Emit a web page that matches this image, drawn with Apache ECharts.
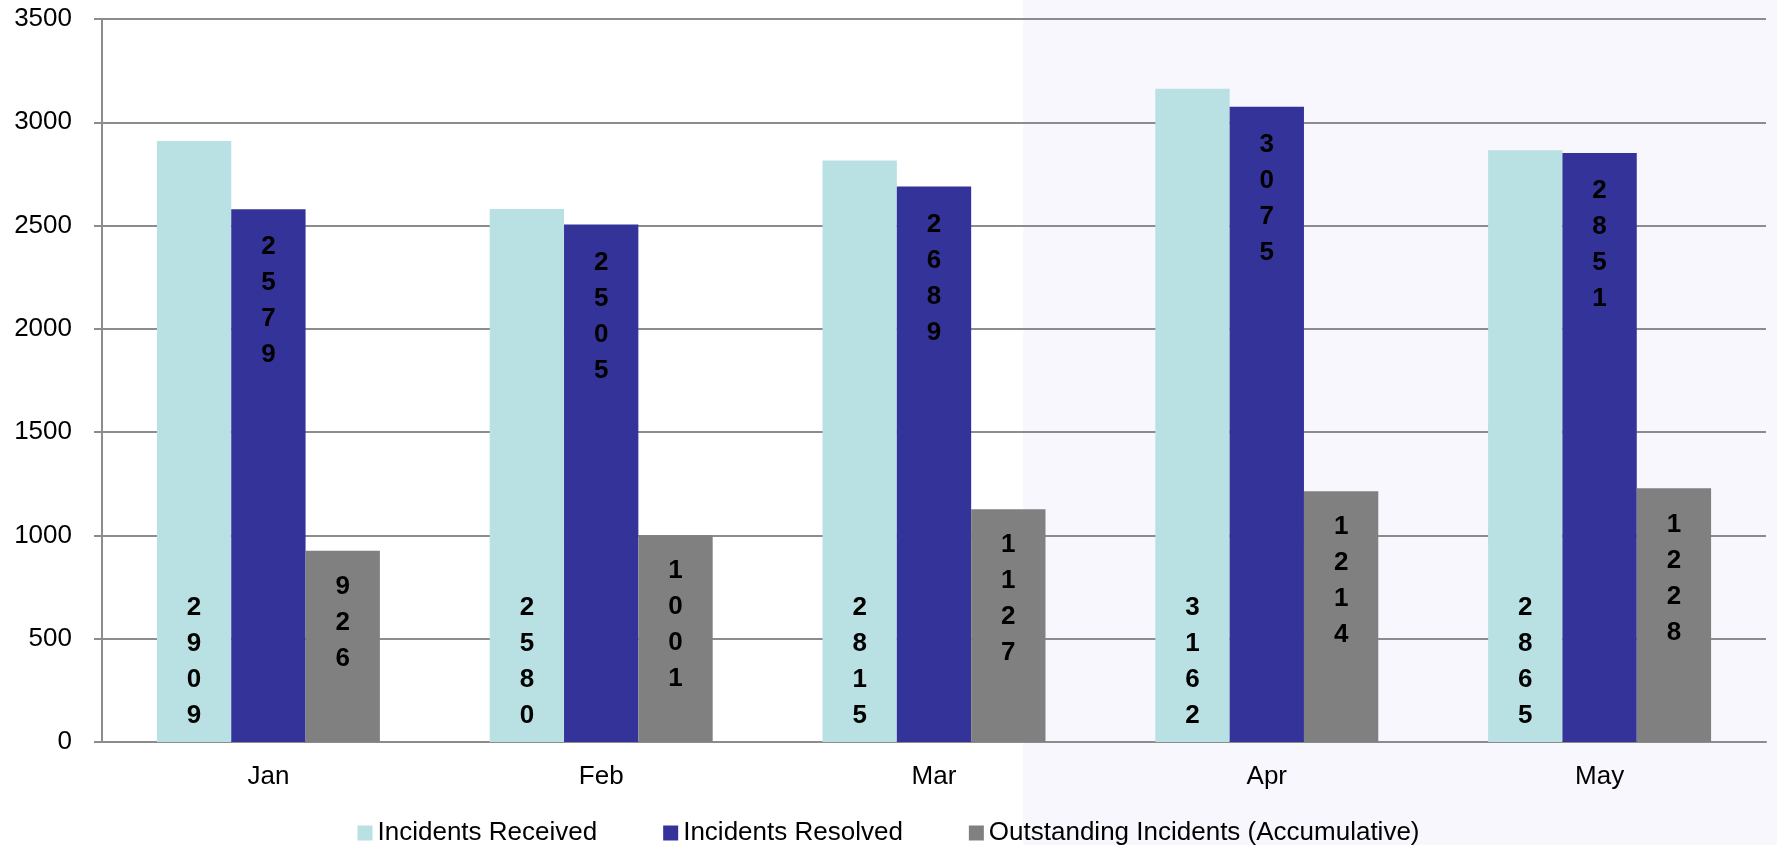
<!DOCTYPE html>
<html>
<head>
<meta charset="utf-8">
<title>Incidents</title>
<script src="https://cdn.jsdelivr.net/npm/echarts@6/dist/echarts.min.js"></script>
<style>
  html, body { margin: 0; padding: 0; background: #fff; }
  #chart { width: 1777px; height: 845px; }
</style>
</head>
<body>
<div id="chart"></div>
<script>
// values
var months = ['Jan', 'Feb', 'Mar', 'Apr', 'May']
var received = [2909, 2580, 2815, 3162, 2865]
var resolved = [2579, 2505, 2689, 3075, 2851]
var outstanding = [926, 1001, 1127, 1214, 1228]
var yTicks = { min: 0, max: 3500, interval: 500 }

var font = '"Liberation Sans", Arial, sans-serif'

// one digit per line, like the original labels
function stacked(p) {
  return String(p.value).split('').join('\n')
}

function digitLabel(position, distance) {
  return {
    show: true,
    position: position,
    distance: distance,
    formatter: stacked,
    color: '#000',
    fontFamily: font,
    fontWeight: 'bold',
    fontSize: 26,
    lineHeight: 36
  }
}

var chart = echarts.init(document.getElementById('chart'))

chart.setOption({
  animation: false,
  backgroundColor: '#fff',
  textStyle: { fontFamily: font },
  // faint watermark tint on the right half
  graphic: [{
    type: 'rect',
    z: -10,
    shape: { x: 1023, y: 0, width: 754, height: 845 },
    style: { fill: '#f8f7fd' }
  }],
  legend: {
    data: ['Incidents Received', 'Incidents Resolved', 'Outstanding Incidents (Accumulative)'],
    left: 'center',
    top: 815,
    icon: 'rect',
    itemWidth: 15,
    itemHeight: 15,
    itemGap: 66,
    textStyle: {
      color: '#000',
      fontSize: 26,
      fontFamily: font
    }
  },
  grid: {
    left: 102,
    right: 11,
    top: 19,
    bottom: 103,
    containLabel: false
  },
  xAxis: {
    type: 'category',
    data: months,
    axisLine: {
      lineStyle: { color: '#8c8c8c', width: 2 }
    },
    axisTick: {
      length: 8,
      lineStyle: { color: '#8c8c8c', width: 2 }
    },
    axisLabel: {
      color: '#000',
      fontSize: 26,
      fontFamily: font,
      margin: 22
    }
  },
  yAxis: {
    type: 'value',
    min: yTicks.min,
    max: yTicks.max,
    interval: yTicks.interval,
    axisLine: {
      show: true,
      lineStyle: { color: '#8c8c8c', width: 2 }
    },
    axisTick: {
      show: true,
      length: 8,
      lineStyle: { color: '#8c8c8c', width: 2 }
    },
    splitLine: {
      lineStyle: { color: '#8c8c8c', width: 2 }
    },
    axisLabel: {
      color: '#000',
      fontSize: 26,
      fontFamily: font,
      margin: 30,
      formatter: function (v) { return String(v) }
    }
  },
  series: [{
    name: 'Incidents Received',
    type: 'bar',
    data: received,
    barGap: '0%',
    barCategoryGap: '33%',
    itemStyle: { color: '#b9e0e3' },
    label: digitLabel('insideBottom', 8)
  }, {
    name: 'Incidents Resolved',
    type: 'bar',
    data: resolved,
    barGap: '0%',
    barCategoryGap: '33%',
    itemStyle: { color: '#333399' },
    label: digitLabel('insideTop', 20)
  }, {
    name: 'Outstanding Incidents (Accumulative)',
    type: 'bar',
    data: outstanding,
    barGap: '0%',
    barCategoryGap: '33%',
    itemStyle: { color: '#808080' },
    label: digitLabel('insideTop', 18)
  }]
})
</script>
</body>
</html>
